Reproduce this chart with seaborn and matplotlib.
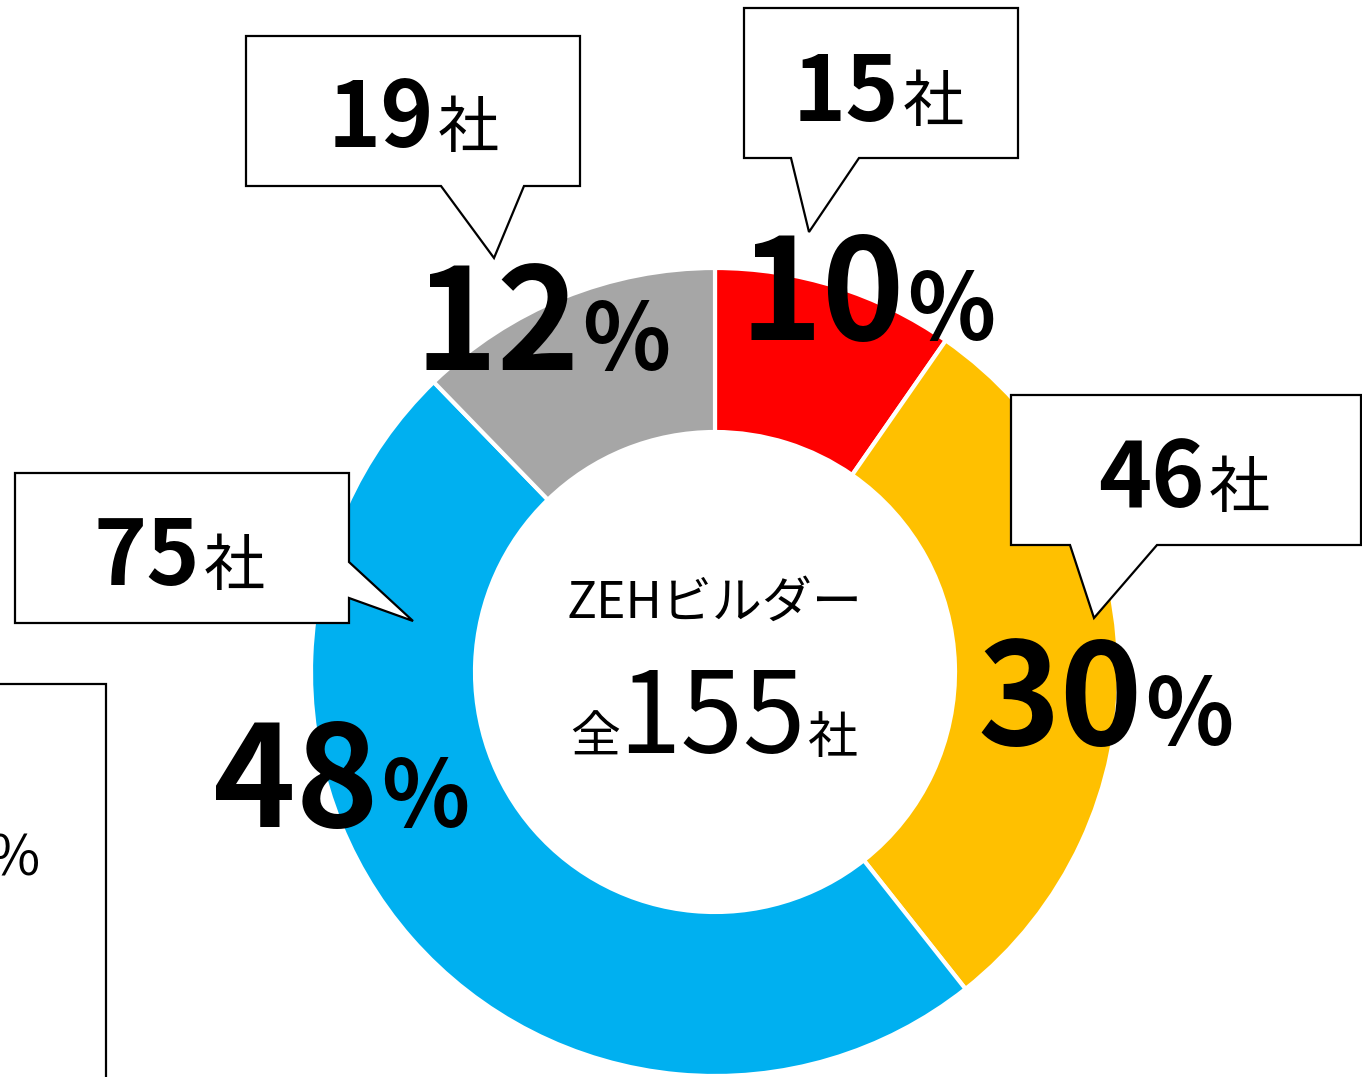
import numpy as np
import matplotlib
matplotlib.use('Agg')
import matplotlib.pyplot as plt
from matplotlib.patches import Polygon
import seaborn as sns

# data
segments = ['A', 'B', 'C', 'D']
companies = [15, 46, 75, 19]
shares = [10, 30, 48, 12]
colors = ['#FF0000', '#FFC000', '#00B0F0', '#A6A6A6']
total = 155
center_title = 'ZEHビルダー'

W, H = 1362, 1077

sns.set_theme(style='white')
plt.rcParams['font.family'] = ['Noto Sans CJK JP', 'DejaVu Sans']
plt.rcParams['text.color'] = 'black'

fig = plt.figure(figsize=(W / 100, H / 100), dpi=100)
ax = fig.add_axes([0, 0, 1, 1])


def py(y):
    # pixel row (from top) -> data y
    return H - y


ax.pie(companies, colors=colors, startangle=90, counterclock=False,
       radius=404, center=(715, py(672)),
       wedgeprops=dict(width=164, edgecolor='white', linewidth=3))
ax.set_xlim(0, W)
ax.set_ylim(0, H)
ax.set_aspect('equal')
ax.axis('off')

# callout boxes (outline incl. tail), in pixel coords
callouts = [
    [(744, 8), (1018, 8), (1018, 158), (859, 158), (809, 232), (791, 158), (744, 158)],
    [(1011, 395), (1361, 395), (1361, 545), (1157, 545), (1094, 618), (1070, 545), (1011, 545)],
    [(15, 473), (349, 473), (349, 562), (413, 621), (349, 598), (349, 623), (15, 623)],
    [(246, 36), (580, 36), (580, 186), (524, 186), (494, 258), (441, 186), (246, 186)],
]
for pts in callouts:
    ax.add_patch(Polygon([(x, py(y)) for x, y in pts], closed=True,
                         facecolor='white', edgecolor='black', lw=1.6, zorder=5))

# partly visible box at lower left
ax.add_patch(Polygon([(-5, py(684)), (106, py(684)), (106, py(1090)), (-5, py(1090))],
                     closed=True, facecolor='white', edgecolor='black', lw=1.6, zorder=5))
ax.text(40, py(876), '%', ha='right', va='baseline', fontsize=40, zorder=6)

# count labels inside the callouts: (split x, baseline y)
count_pos = [(899, 121), (1205, 507), (200, 585), (434, 147)]
for n, (x, y) in zip(companies, count_pos):
    ax.text(x, py(y), str(n), ha='right', va='baseline', fontsize=65,
            fontweight='bold', zorder=6)
    ax.text(x + 4, py(y), '社', ha='left', va='baseline', fontsize=44, zorder=6)

# share labels on the ring
share_pos = [(905, 340), (1143, 745), (379, 827), (580, 370)]
for s, (x, y) in zip(shares, share_pos):
    ax.text(x, py(y), str(s), ha='right', va='baseline', fontsize=101,
            fontweight='bold', zorder=7)
    ax.text(x + 2, py(y), '%', ha='left', va='baseline', fontsize=66,
            fontweight='bold', zorder=7)

# centre text
ax.text(714, py(618), center_title, ha='center', va='baseline', fontsize=36, zorder=6)
ax.text(620, py(753), '全', ha='right', va='baseline', fontsize=36, zorder=6)
ax.text(712, py(753), str(total), ha='center', va='baseline', fontsize=81, zorder=6)
ax.text(808, py(753), '社', ha='left', va='baseline', fontsize=36, zorder=6)

fig.savefig('out.png', dpi=100)
